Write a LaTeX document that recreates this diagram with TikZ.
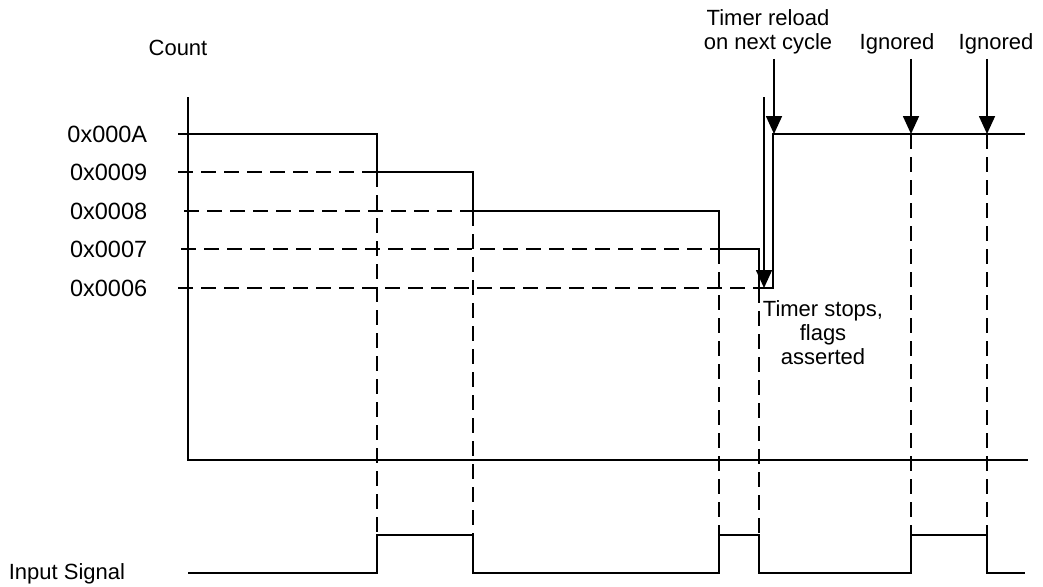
\documentclass[tikz,border=0pt]{standalone}
\usepackage{fontspec}
\setmainfont{Liberation Sans}
\usetikzlibrary{arrows.meta}
\begin{document}
\begin{tikzpicture}[x=1pt,y=-1pt,
  line width=1.7pt,
  txt/.style={inner sep=0pt,font=\fontsize{22}{24}\selectfont},
  lvl/.style={inner sep=0pt,anchor=base east,font=\fontsize{23.5}{24}\selectfont},
  dsh/.style={dash pattern=on 15pt off 8pt},
  arr/.style={-{Triangle[width=16pt,length=18pt]}},
  sig/.style={line join=miter}]
\useasboundingbox (0,0) rectangle (1043,586);

% labels
\node[txt,anchor=base] (count) at (178,56) {Count};
\node[lvl] (la) at (148,142) {0x000A};
\node[lvl] (l9) at (148,180) {0x0009};
\node[lvl] (l8) at (148,219) {0x0008};
\node[lvl] (l7) at (148,257) {0x0007};
\node[lvl] (l6) at (148,296) {0x0006};
\node[txt,anchor=base west] (insig) at (8,579) {Input Signal};
\node[txt,anchor=base] (rl1) at (768,26) {Timer reload};
\node[txt,anchor=base] (rl2) at (768,50) {on next cycle};
\node[txt,anchor=base] (ig1) at (897,50) {Ignored};
\node[txt,anchor=base] (ig2) at (996,50) {Ignored};
\node[txt,anchor=base] (ts1) at (823,316) {Timer stops,};
\node[txt,anchor=base] (ts2) at (823,340) {flags};
\node[txt,anchor=base] (ts3) at (823,364) {asserted};

% coordinates
\coordinate (ytop) at (188,97);
\coordinate (orig) at (188,460);
\coordinate (xend) at (1028,460);

\coordinate (ta) at (178,134);
\coordinate (t9) at (178,172);
\coordinate (t8) at (184,211);
\coordinate (t7) at (181,249);
\coordinate (t6) at (178,288);

\coordinate (a1) at (377,134);
\coordinate (b1) at (377,172);
\coordinate (b2) at (473,172);
\coordinate (c2) at (473,211);
\coordinate (c3) at (719,211);
\coordinate (d3) at (719,249);
\coordinate (d4) at (759,249);
\coordinate (e4) at (759,288);
\coordinate (e5) at (773,288);
\coordinate (f5) at (773,134);
\coordinate (fend) at (1025,134);

\coordinate (s0) at (188,573);
\coordinate (s1l) at (377,573);
\coordinate (s1h) at (377,535);
\coordinate (s2h) at (473,535);
\coordinate (s2l) at (473,573);
\coordinate (s3l) at (719,573);
\coordinate (s3h) at (719,535);
\coordinate (s4h) at (759,535);
\coordinate (s4l) at (759,573);
\coordinate (s5l) at (911,573);
\coordinate (s5h) at (911,535);
\coordinate (s6h) at (987,535);
\coordinate (s6l) at (987,573);
\coordinate (send) at (1025,573);

\coordinate (g1) at (911,134);
\coordinate (g2) at (987,134);
\coordinate (stopA) at (764,97);
\coordinate (stopB) at (764,288);
\coordinate (rlA) at (774,59);
\coordinate (rlB) at (774,134);
\coordinate (ig1A) at (911,59);
\coordinate (ig2A) at (987,59);

% axes
\draw (ytop) -- (orig) -- (xend);

% count staircase
\draw[sig] (ta) -- (a1) -- (b1) -- (b2) -- (c2) -- (c3) -- (d3) -- (d4) -- (e4) -- (e5) -- (f5) -- (fend);

% dashed level guides
\draw[dsh] (t9) -- (b1);
\draw[dsh] (t8) -- (c2);
\draw[dsh] (t7) -- (d3);
\draw[dsh] (t6) -- (e4);

% dashed verticals
\draw[dsh] (b1) -- (s1h);
\draw[dsh] (c2) -- (s2h);
\draw[dsh] (d3) -- (s3h);
\draw[dsh] (e4) -- (s4h);
\draw[dsh] (g1) -- (s5h);
\draw[dsh] (g2) -- (s6h);

% input signal
\draw[sig] (s0) -- (s1l) -- (s1h) -- (s2h) -- (s2l) -- (s3l) -- (s3h) -- (s4h) -- (s4l) -- (s5l) -- (s5h) -- (s6h) -- (s6l) -- (send);

% arrows
\draw[arr] (stopA) -- (stopB);
\draw[arr] (rlA) -- (rlB);
\draw[arr] (ig1A) -- (g1);
\draw[arr] (ig2A) -- (g2);
\end{tikzpicture}
\end{document}
